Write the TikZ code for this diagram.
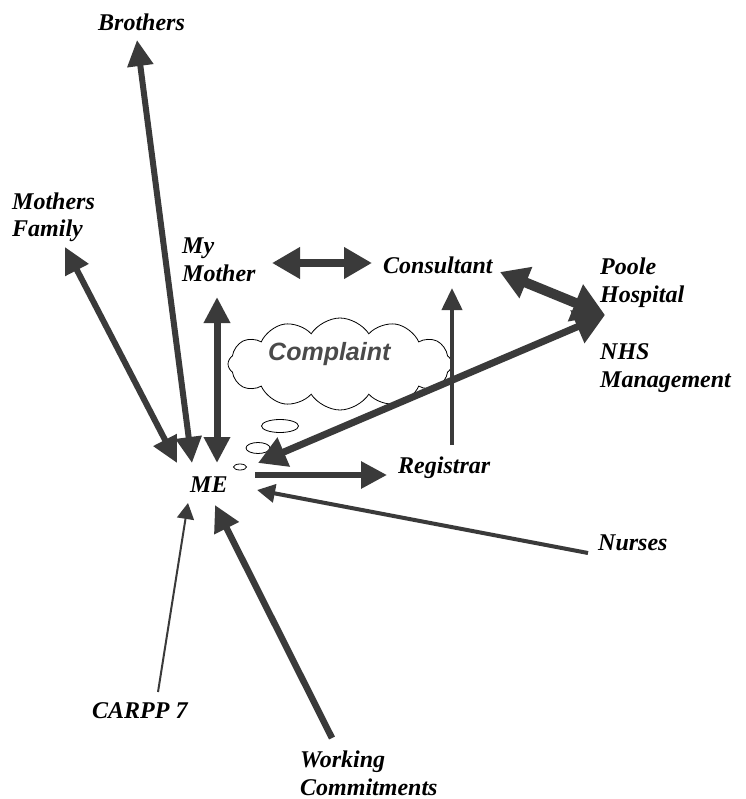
\documentclass[tikz,border=0pt]{standalone}
\usepackage{fontspec}
\setmainfont{Liberation Serif}
\newfontfamily\cloudfont{Liberation Sans}
\usetikzlibrary{arrows.meta,shapes.symbols,shapes.geometric}
\definecolor{arrowgray}{HTML}{3A3A3A}
\definecolor{textgray}{HTML}{4A4A4A}

\begin{document}
\begin{tikzpicture}[x=1pt,y=-1pt,
	lbl/.style={font=\fontsize{24}{28}\selectfont\bfseries\itshape, inner sep=0pt, align=left, anchor=base west},
	arrone/.style={arrowgray, line width=6pt, -{Triangle[length=26pt,width=26pt]}},
	arrboth/.style={arrowgray, line width=6pt, {Triangle[length=26pt,width=25pt]}-{Triangle[length=26pt,width=25pt]}},
	arrbig/.style={arrowgray, line width=9pt, {Triangle[length=28pt,width=30pt]}-{Triangle[length=28pt,width=30pt]}},
	arrthin/.style={arrowgray, line width=3pt, -{Triangle[length=18pt,width=18pt]}},
	bubble/.style={ellipse, draw, line width=0.8pt, fill=white, inner sep=0pt}]

	\useasboundingbox (0,0) rectangle (745,799);

	% people and bodies (base = last line)
	\node[lbl] (brothers) at (98,31) {Brothers};
	\node[lbl] (mfamily) at (12,237) {Mothers\\Family};
	\node[lbl] (mymother) at (182,281) {My\\Mother};
	\node[lbl] (consultant) at (383,273) {Consultant};
	\node[lbl] (poole) at (600,302) {Poole\\Hospital};
	\node[lbl] (nhs) at (600,387) {NHS\\Management};
	\node[lbl] (me) at (190,492) {ME};
	\node[lbl] (registrar) at (398,473) {Registrar};
	\node[lbl] (nurses) at (598,550) {Nurses};
	\node[lbl] (carpp) at (92,718) {CARPP 7};
	\node[lbl] (working) at (300,795) {Working\\Commitments};

	% thought cloud
	\node[cloud, cloud puffs=12, cloud puff arc=115, aspect=2.4, draw, line width=0.8pt, fill=white,
		minimum width=224pt, minimum height=92pt] (cloud) at (340,364) {};
	\node[font=\cloudfont\fontsize{25}{30}\selectfont\bfseries\itshape, text=textgray, inner sep=0pt, anchor=base west]
		(complaint) at (268,360) {Complaint};
	\node[bubble, minimum width=37pt, minimum height=13pt] (bubble1) at (280,426) {};
	\node[bubble, minimum width=24pt, minimum height=11pt] (bubble2) at (258,448) {};
	\node[bubble, minimum width=13pt, minimum height=6pt] (bubble3) at (240,467) {};

	% arrow ends
	\coordinate (bro-tip) at (137,40);
	\coordinate (me-bro) at (192,463);
	\coordinate (mf-tip) at (65,247);
	\coordinate (me-mf) at (177,463);
	\coordinate (mm-tip) at (217,297);
	\coordinate (me-mm) at (217,463);
	\coordinate (mm-r) at (272,263);
	\coordinate (con-l) at (372,263);
	\coordinate (con-r) at (500,272);
	\coordinate (hosp-tip) at (605,315);
	\coordinate (me-nhs) at (258,463);
	\coordinate (reg-top) at (452,445);
	\coordinate (con-b) at (452,288);
	\coordinate (me-r) at (255,475);
	\coordinate (reg-l) at (387,475);
	\coordinate (nur-tail) at (588,553);
	\coordinate (me-nur) at (257,490);
	\coordinate (car-tail) at (158,692);
	\coordinate (me-car) at (188,503);
	\coordinate (work-tail) at (332,738);
	\coordinate (me-work) at (215,505);

	\draw[arrboth] (me-bro) -- (bro-tip);
	\draw[arrboth] (me-mf) -- (mf-tip);
	\draw[arrboth, line width=7pt] (me-mm) -- (mm-tip);
	\draw[arrbig, line width=8pt] (mm-r) -- (con-l);
	\draw[arrowgray, line width=10pt, {Triangle[length=28pt,width=32pt]}-{Triangle[length=32pt,width=38pt]}] (con-r) -- (hosp-tip);
	\draw[arrboth, line width=7pt, {Triangle[length=28pt,width=30pt]}-{Triangle[length=30pt,width=34pt]}] (me-nhs) -- (hosp-tip);
	\draw[arrthin, line width=4pt, -{Triangle[length=22pt,width=20pt]}] (reg-top) -- (con-b);
	\draw[arrone] (me-r) -- (reg-l);
	\draw[arrthin, line width=4pt] (nur-tail) -- (me-nur);
	\draw[arrthin, line width=2pt, -{Triangle[length=16pt,width=17pt]}] (car-tail) -- (me-car);
	\draw[arrone, line width=6.5pt] (work-tail) -- (me-work);

\end{tikzpicture}
\end{document}
